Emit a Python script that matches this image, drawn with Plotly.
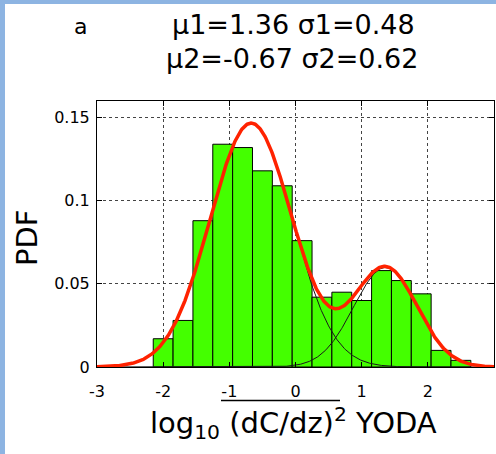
import numpy as np
import plotly.graph_objects as go

# ---- data ----
bin_centers = [-2.0, -1.7, -1.4, -1.1, -0.8, -0.5, -0.2, 0.1, 0.4, 0.7, 1.0, 1.3, 1.6, 1.9, 2.2, 2.5]
pdf_values = [0.017, 0.028, 0.088, 0.134, 0.132, 0.118, 0.109, 0.076, 0.042, 0.045,
              0.040, 0.058, 0.052, 0.044, 0.010, 0.004]
bin_width = 0.3

# Gaussian-mixture fit parameters (mu, sigma from title; weights estimated)
mu1, sigma1, weight1 = 1.36, 0.48, 0.24
mu2, sigma2, weight2 = -0.67, 0.62, 0.76

x_ticks = [-3, -2, -1, 0, 1, 2, 3]
x_tick_labels = ["-3", "-2", "-1", "0", "1", "2", "3"]
y_ticks = [0, 0.05, 0.1, 0.15]
y_tick_labels = ["0", "0.05", "0.1", "0.15"]


def gauss(x, mu, s, w):
    return w * bin_width * np.exp(-(x - mu) ** 2 / (2 * s ** 2)) / (s * np.sqrt(2 * np.pi))


xc = np.linspace(-3, 3, 601)
comp1 = gauss(xc, mu1, sigma1, weight1)
comp2 = gauss(xc, mu2, sigma2, weight2)
total = comp1 + comp2

FONT = "DejaVu Sans"

fig = go.Figure()
fig.add_trace(go.Bar(x=bin_centers, y=pdf_values, width=bin_width,
                     marker=dict(color="#44FF00", line=dict(color="black", width=1)),
                     showlegend=False))
fig.add_trace(go.Scatter(x=xc, y=comp1, mode="lines", line=dict(color="#1a1a1a", width=1),
                         showlegend=False))
fig.add_trace(go.Scatter(x=xc, y=comp2, mode="lines", line=dict(color="#1a1a1a", width=1),
                         showlegend=False))
fig.add_trace(go.Scatter(x=xc, y=total, mode="lines", line=dict(color="#FF2200", width=3.5),
                         showlegend=False))

W, H = 496, 454
L, R, T, B = 97, 2, 101, 87
pw, ph = W - L - R, H - T - B


def px(xp):
    return (xp - L) / pw


def py(yp):
    return (H - B - yp) / ph


axis_common = dict(showline=True, linecolor="black", linewidth=1, mirror="ticks",
                   ticks="inside", ticklen=5, tickcolor="black",
                   showgrid=True, gridcolor="#444444", griddash="dot", gridwidth=1,
                   zeroline=False, automargin=False,
                   tickfont=dict(family=FONT, size=16, color="black"))

fig.update_layout(
    width=W, height=H,
    margin=dict(l=L, r=R, t=T, b=B),
    paper_bgcolor="white", plot_bgcolor="white",
    bargap=0,
    xaxis=dict(range=[-3, 3], tickvals=x_ticks, ticktext=x_tick_labels,
               ticklabelstandoff=10, **axis_common),
    yaxis=dict(range=[0, 0.16], tickvals=y_ticks, ticktext=y_tick_labels,
               ticklabelstandoff=3, **axis_common),
    font=dict(family=FONT, color="black"),
)

ann = [
    dict(text="a", x=px(80), y=py(27), font=dict(family=FONT, size=22, color="black")),
    dict(text="\u03bc1=1.36 \u03c31=0.48", x=px(293), y=py(24),
         font=dict(family=FONT, size=27, color="black")),
    dict(text="\u03bc2=-0.67 \u03c32=0.62", x=px(292), y=py(59),
         font=dict(family=FONT, size=27, color="black")),
    dict(text="PDF", x=px(27), y=py(238), textangle=-90,
         font=dict(family=FONT, size=29, color="black")),
    dict(text="log<sub>10</sub> (dC/dz)<sup>2</sup> YODA", x=px(293), y=py(423),
         font=dict(family=FONT, size=29, color="black")),
]
for a in ann:
    fig.add_annotation(xref="paper", yref="paper", showarrow=False,
                       xanchor="center", yanchor="middle", **a)

shapes = [
    dict(type="rect", xref="paper", yref="paper", x0=px(0), x1=px(5), y0=py(H), y1=py(0),
         fillcolor="#8DB4E2", line=dict(width=0)),
    dict(type="rect", xref="paper", yref="paper", x0=px(5), x1=px(W), y0=py(4), y1=py(0),
         fillcolor="#8DB4E2", line=dict(width=0)),
    dict(type="line", xref="paper", yref="paper", x0=px(221), x1=px(340), y0=py(400.5),
         y1=py(400.5), line=dict(color="black", width=1.5)),
]
for s in shapes:
    fig.add_shape(**s)

fig.write_html("out.html", config={"displayModeBar": False, "staticPlot": True},
               post_script="document.body.style.margin='0px';"
                           "document.body.style.overflow='hidden';")
